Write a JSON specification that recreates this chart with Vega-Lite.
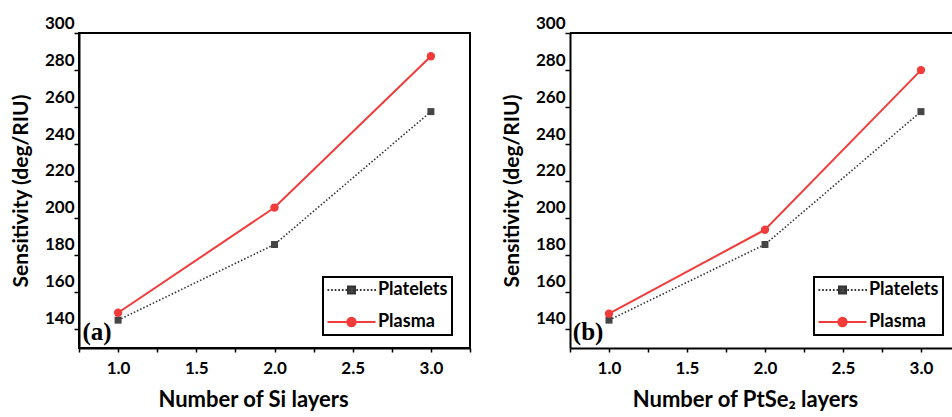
{
  "$schema": "https://vega.github.io/schema/vega-lite/v6.json",
  "padding": {"left": 9, "top": 13, "right": 0, "bottom": 0},
  "autosize": {"type": "pad"},
  "spacing": 29,
  "config": {
    "font": "Lato",
    "view": {"stroke": "black", "strokeWidth": 2},
    "axis": {
      "labelFont": "Lato", "labelFontWeight": "bold", "labelFontSize": 17, "labelColor": "black",
      "titleFont": "Lato", "titleFontWeight": "bold", "titleFontSize": 21, "titleColor": "black",
      "domainColor": "black", "domainWidth": 2, "tickColor": "black", "tickWidth": 1.5,
      "grid": false, "labelOverlap": false
    },
    "legend": {
      "orient": "none", "legendX": 244, "legendY": 244,
      "strokeColor": "black", "strokeWidth": 2, "padding": 4, "rowPadding": 14,
      "symbolSize": 64, "symbolStrokeWidth": 2, "labelOffset": 33,
      "labelFont": "Lato", "labelFontSize": 18, "labelFontWeight": "bold", "labelColor": "black"
    }
  },
  "datasets": {
    "sens": [
      {"panel": "a", "series": "Platelets", "layers": 1, "sensitivity": 139},
      {"panel": "a", "series": "Platelets", "layers": 2, "sensitivity": 180},
      {"panel": "a", "series": "Platelets", "layers": 3, "sensitivity": 252},
      {"panel": "a", "series": "Plasma", "layers": 1, "sensitivity": 143},
      {"panel": "a", "series": "Plasma", "layers": 2, "sensitivity": 200},
      {"panel": "a", "series": "Plasma", "layers": 3, "sensitivity": 282},
      {"panel": "b", "series": "Platelets", "layers": 1, "sensitivity": 139},
      {"panel": "b", "series": "Platelets", "layers": 2, "sensitivity": 180},
      {"panel": "b", "series": "Platelets", "layers": 3, "sensitivity": 252},
      {"panel": "b", "series": "Plasma", "layers": 1, "sensitivity": 142.5},
      {"panel": "b", "series": "Plasma", "layers": 2, "sensitivity": 188},
      {"panel": "b", "series": "Plasma", "layers": 3, "sensitivity": 274.5}
    ]
  },
  "resolve": {
    "scale": {"fill": "independent", "stroke": "independent", "shape": "independent"},
    "legend": {"fill": "independent", "stroke": "independent", "shape": "independent"}
  },
  "hconcat": [
    {
      "width": 391, "height": 315,
      "data": {"name": "sens"},
      "transform": [{"filter": "datum.panel === 'a'"}],
      "encoding": {
        "x": {"field": "layers", "type": "quantitative",
          "scale": {"domain": [0.75, 3.25], "nice": false, "zero": false},
          "axis": {"title": "Number of Si layers", "values": [0.75, 1, 1.25, 1.5, 1.75, 2, 2.25, 2.5, 2.75, 3, 3.25],
            "labelExpr": "(datum.value * 2) % 1 === 0 ? format(datum.value, '.1f') : ''",
            "tickSize": 4, "labelPadding": 8, "titlePadding": 13, "titleFontSize": 22, "titleX": 174}},
        "y": {"field": "sensitivity", "type": "quantitative",
          "scale": {"domain": [123.9, 294.6], "nice": false, "zero": false},
          "axis": {"title": "Sensitivity (deg/RIU)", "values": [134.4, 154.4, 174.4, 194.4, 214.4, 234.4, 254.4, 274.4, 294.4],
            "labelExpr": "format(datum.value + 5.6, '.0f')",
            "labelOffset": -10, "tickSize": 5, "labelPadding": 0, "titlePadding": 13}}
      },
      "layer": [
        {"transform": [{"filter": "datum.series === 'Platelets'"}],
         "mark": {"type": "line", "color": "#333333", "strokeWidth": 1.6, "strokeDash": [1.5, 2]}},
        {"transform": [{"filter": "datum.series === 'Plasma'"}],
         "mark": {"type": "line", "color": "#f23c3c", "strokeWidth": 2}},
        {"transform": [{"filter": "datum.series === 'Platelets'"}],
         "mark": {"type": "point", "shape": "square", "filled": true, "color": "#454545", "size": 49, "opacity": 1}},
        {"transform": [{"filter": "datum.series === 'Plasma'"}],
         "mark": {"type": "point", "shape": "circle", "filled": true, "color": "#f23c3c", "size": 70, "opacity": 1}},
        {"transform": [{"filter": "datum.layers > 100"}],
         "mark": {"type": "point", "filled": true, "opacity": 1},
         "encoding": {
           "fill": {"field": "series", "type": "nominal", "scale": {"domain": ["Platelets", "Plasma"], "range": ["#454545", "#f23c3c"]}, "legend": {"title": null}},
           "stroke": {"field": "series", "type": "nominal", "scale": {"domain": ["Platelets", "Plasma"], "range": ["#333333", "#f23c3c"]}, "legend": {"title": null}},
           "shape": {"field": "series", "type": "nominal", "scale": {"domain": ["Platelets", "Plasma"], "range": [
             "M-2.125,0h0.42m0.48,0h0.42m0.48,0h0.42m0.48,0h0.42m0.48,0h0.42m0.48,0h0.42m0.48,0h0.42m0.48,0h0.42m0.48,0h0.42m0.48,0h0.42m0.48,0h0.42m0.48,0h0.42m0.48,0h0.42m0.48,0h0.42M3,-0.875H4.75V0.875H3Z",
             "M-2.125,0H9.875M4.925,0A1.05,1.05 0 1,1 2.825,0A1.05,1.05 0 1,1 4.925,0Z"]}, "legend": {"title": null}}
         }},
        {"transform": [{"filter": "datum.series === 'Plasma' && datum.layers === 1"}],
         "mark": {"type": "text", "text": "(a)", "font": "Liberation Serif", "fontWeight": "bold", "fontSize": 25, "align": "left", "baseline": "middle", "color": "black"},
         "encoding": {"x": {"datum": 0.772}, "y": {"datum": 132.5}}}
      ]
    },
    {
      "width": 382, "height": 315,
      "view": {"stroke": null},
      "data": {"name": "sens"},
      "transform": [{"filter": "datum.panel === 'b'"}],
      "encoding": {
        "x": {"field": "layers", "type": "quantitative",
          "scale": {"domain": [0.75, 3.199], "nice": false, "zero": false},
          "axis": {"title": "Number of PtSe₂ layers", "values": [0.75, 1, 1.25, 1.5, 1.75, 2, 2.25, 2.5, 2.75, 3],
            "labelExpr": "(datum.value * 2) % 1 === 0 ? format(datum.value, '.1f') : ''",
            "tickSize": 4, "labelPadding": 8, "titlePadding": 13, "titleFontSize": 22, "titleX": 175}},
        "y": {"field": "sensitivity", "type": "quantitative",
          "scale": {"domain": [123.9, 294.6], "nice": false, "zero": false},
          "axis": {"title": "Sensitivity (deg/RIU)", "values": [134.4, 154.4, 174.4, 194.4, 214.4, 234.4, 254.4, 274.4, 294.4],
            "labelExpr": "format(datum.value + 5.6, '.0f')",
            "labelOffset": -10, "tickSize": 5, "labelPadding": 0, "titlePadding": 13}}
      },
      "layer": [
        {"transform": [{"filter": "datum.series === 'Plasma' && datum.layers === 1"}],
         "mark": {"type": "rule", "color": "black", "strokeWidth": 2},
         "encoding": {"x": {"datum": 0.75}, "x2": {"datum": 3.199}, "y": {"datum": 294.6}}},
        {"transform": [{"filter": "datum.series === 'Platelets'"}],
         "mark": {"type": "line", "color": "#333333", "strokeWidth": 1.6, "strokeDash": [1.5, 2]}},
        {"transform": [{"filter": "datum.series === 'Plasma'"}],
         "mark": {"type": "line", "color": "#f23c3c", "strokeWidth": 2}},
        {"transform": [{"filter": "datum.series === 'Platelets'"}],
         "mark": {"type": "point", "shape": "square", "filled": true, "color": "#454545", "size": 49, "opacity": 1}},
        {"transform": [{"filter": "datum.series === 'Plasma'"}],
         "mark": {"type": "point", "shape": "circle", "filled": true, "color": "#f23c3c", "size": 70, "opacity": 1}},
        {"transform": [{"filter": "datum.layers > 100"}],
         "mark": {"type": "point", "filled": true, "opacity": 1},
         "encoding": {
           "fill": {"field": "series", "type": "nominal", "scale": {"domain": ["Platelets", "Plasma"], "range": ["#454545", "#f23c3c"]}, "legend": {"title": null}},
           "stroke": {"field": "series", "type": "nominal", "scale": {"domain": ["Platelets", "Plasma"], "range": ["#333333", "#f23c3c"]}, "legend": {"title": null}},
           "shape": {"field": "series", "type": "nominal", "scale": {"domain": ["Platelets", "Plasma"], "range": [
             "M-2.125,0h0.42m0.48,0h0.42m0.48,0h0.42m0.48,0h0.42m0.48,0h0.42m0.48,0h0.42m0.48,0h0.42m0.48,0h0.42m0.48,0h0.42m0.48,0h0.42m0.48,0h0.42m0.48,0h0.42m0.48,0h0.42m0.48,0h0.42M3,-0.875H4.75V0.875H3Z",
             "M-2.125,0H9.875M4.925,0A1.05,1.05 0 1,1 2.825,0A1.05,1.05 0 1,1 4.925,0Z"]}, "legend": {"title": null}}
         }},
        {"transform": [{"filter": "datum.series === 'Plasma' && datum.layers === 1"}],
         "mark": {"type": "text", "text": "(b)", "font": "Liberation Serif", "fontWeight": "bold", "fontSize": 25, "align": "left", "baseline": "middle", "color": "black"},
         "encoding": {"x": {"datum": 0.768}, "y": {"datum": 132.5}}}
      ]
    }
  ]
}
